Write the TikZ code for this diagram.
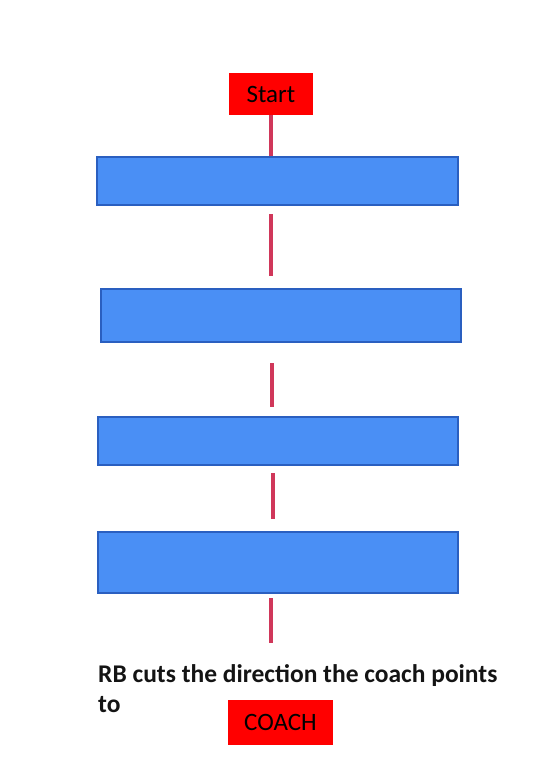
\documentclass[tikz,border=0pt]{standalone}
\usepackage{fontspec}
\setmainfont{Carlito}
\begin{document}
\begin{tikzpicture}[x=1pt,y=-1pt,
  bluebox/.style={draw=boxedge, fill=boxfill, line width=2pt, minimum height=48pt, minimum width=361pt, inner sep=0pt},
  redbox/.style={fill=red, text=black, inner sep=0pt, font=\fontsize{25}{29}\selectfont},
  link/.style={draw=linkcol, line width=4pt}]
\definecolor{boxfill}{RGB}{74,143,245}
\definecolor{boxedge}{RGB}{42,95,192}
\definecolor{linkcol}{RGB}{208,55,90}
\useasboundingbox (0,0) rectangle (550,767);
\fill[white] (0,0) rectangle (550,767);
\node[redbox, minimum width=84pt, minimum height=42pt] (start) at (271,94) {Start};
\node[bluebox] (b1) at (277.5,181) {};
\node[bluebox, minimum width=360pt, minimum height=53pt] (b2) at (281,315.5) {};
\node[bluebox, minimum width=360pt] (b3) at (278,441) {};
\node[bluebox, minimum width=360pt, minimum height=61pt] (b4) at (278,562.5) {};
\coordinate (e5) at (271,643);
\draw[link] (start.south) -- (b1.north -| start);
\draw[link, shorten <=8pt, shorten >=12pt] (b1.south -| start) -- (b2.north -| start);
\draw[link, shorten <=20pt, shorten >=9pt] ([xshift=1pt]b2.south -| start) -- ([xshift=1pt]b3.north -| start);
\draw[link, shorten <=7pt, shorten >=12pt] ([xshift=2pt]b3.south -| start) -- ([xshift=2pt]b4.north -| start);
\draw[link, shorten <=4pt] (b4.south -| start) -- (e5);
\node[anchor=base west, inner sep=0pt, font=\bfseries\fontsize{25.5}{30}\selectfont, text=black!92] (txt) at (98,682)
  {\begin{tabular}[t]{@{}l@{}}RB cuts the direction the coach points\\to\end{tabular}};
\node[redbox, minimum width=105pt, minimum height=45pt] (coach) at (280.5,722) {COACH};
\end{tikzpicture}
\end{document}
